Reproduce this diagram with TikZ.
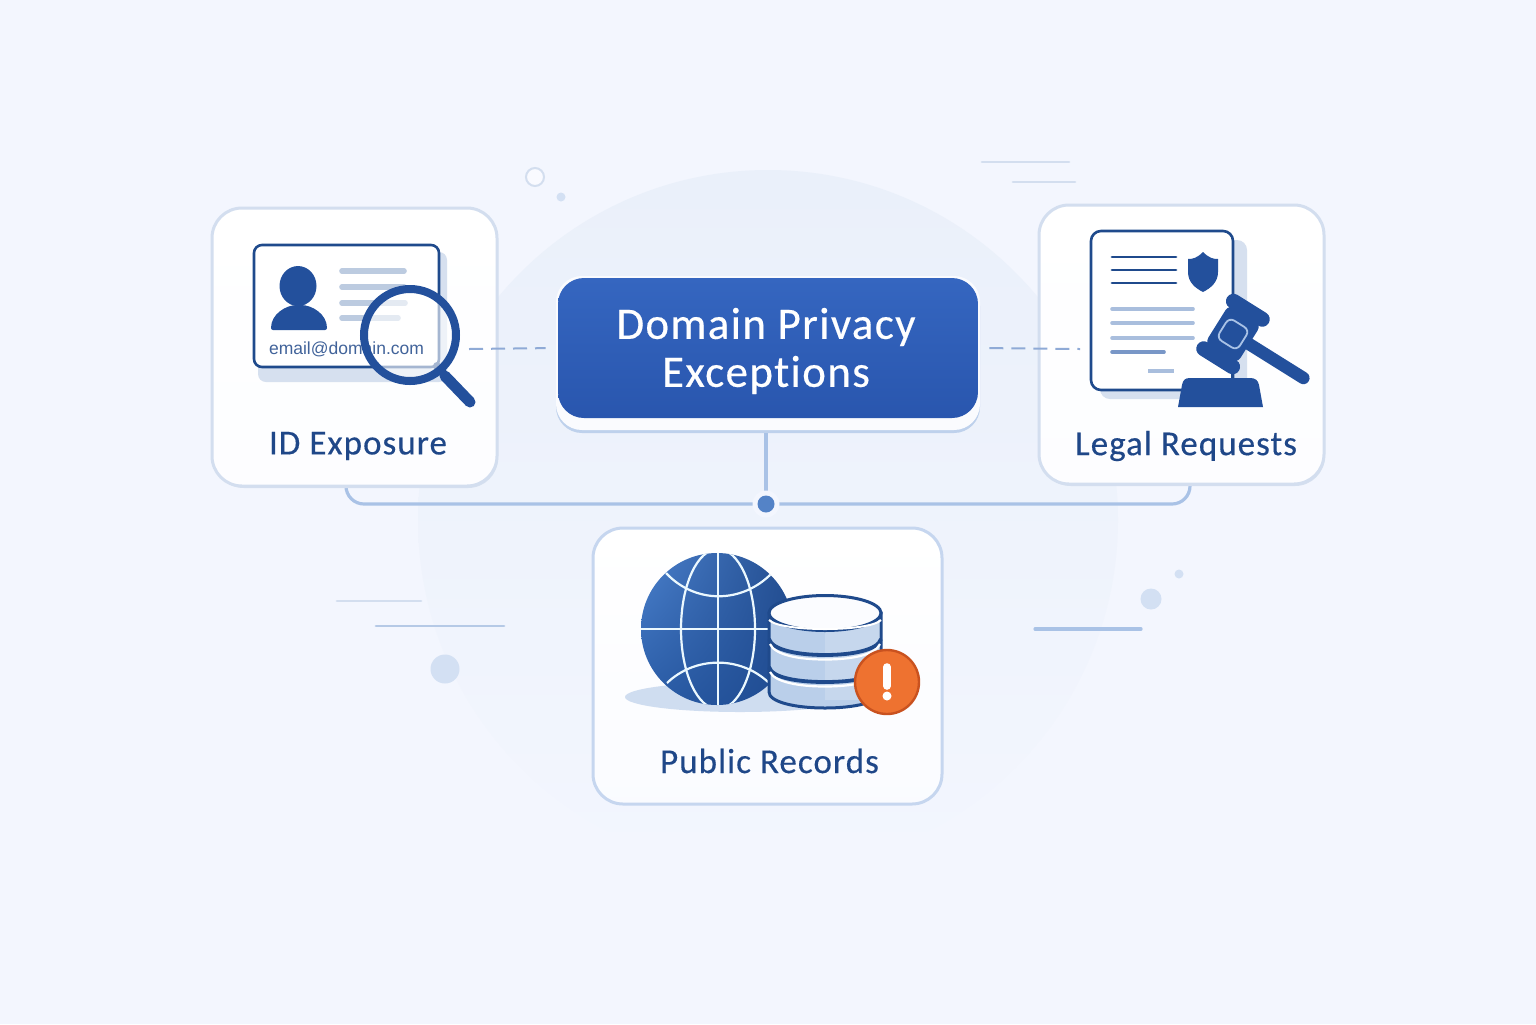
\documentclass[tikz,border=0pt]{standalone}
\usepackage{fontspec}
\setmainfont{Carlito}
\newfontfamily\arialish{Liberation Sans}
\newfontfamily\labelfont[LetterSpace=3,FakeBold=0.35,Ligatures=NoCommon]{Carlito}
\usetikzlibrary{calc,shadings}
\definecolor{bgc}{HTML}{F3F6FE}
\definecolor{halo}{HTML}{EAF0FA}
\definecolor{navy}{HTML}{1F4A8C}
\definecolor{ink}{HTML}{1F4788}
\definecolor{iconblue}{HTML}{23509C}
\definecolor{cardline}{HTML}{D3DEEF}
\definecolor{cardshadow}{HTML}{D6E0EF}
\definecolor{publine}{HTML}{C6D6EF}
\definecolor{conn}{HTML}{A9C2E6}
\definecolor{dash}{HTML}{8FAAD6}
\definecolor{textbar}{HTML}{BCCBE0}
\definecolor{softbar}{HTML}{A9BEDD}
\definecolor{deco}{HTML}{D3E0F3}
\definecolor{decoline}{HTML}{B5C9E6}
\definecolor{drum}{HTML}{BACFEA}
\definecolor{alertf}{HTML}{EE7230}
\definecolor{alertl}{HTML}{C9521F}
\definecolor{maintop}{HTML}{3566C0}
\definecolor{mainbot}{HTML}{2956AE}
\definecolor{dotc}{HTML}{5483C7}
\definecolor{globeul}{HTML}{4A80CC}
\definecolor{globeur}{HTML}{244E90}
\definecolor{globell}{HTML}{2A5CA6}
\definecolor{globelr}{HTML}{1E4A90}
\tikzset{
  card/.style={draw=cardline,line width=1.5pt,rounded corners=15pt,top color=white,bottom color=white!80!bgc,inner sep=0pt},
  cardlabel/.style={text=ink,font=\labelfont\fontsize{17.5}{20}\selectfont,inner sep=0pt},
  connector/.style={draw=conn,line width=1.6pt,rounded corners=9pt},
  dashlink/.style={draw=dash,line width=1pt,dash pattern=on 7pt off 4pt},
  bar/.style={draw=textbar,line width=2.8pt,line cap=round},
  softline/.style={draw=softbar,line width=1.8pt,line cap=round},
  darkline/.style={draw=navy,line width=1.4pt,line cap=round},
  decoln/.style={draw=decoline,line width=1.4pt,line cap=round},
  grid/.style={draw=white!92!cyan,line width=1.1pt},
}
\begin{document}
\begin{tikzpicture}[x=0.5pt,y=-0.5pt]
\useasboundingbox (0,0) rectangle (1536,1024);
\fill[bgc] (0,0) rectangle (1536,1024);
% large soft disc
\shade[top color=halo,bottom color=bgc] (768,520) circle[radius=350];
% decorations
\draw[cardline,line width=1pt,fill=bgc!50!white] (535,177) circle[radius=9];
\fill[deco] (561,197) circle[radius=4.5];
\draw[decoln,draw=cardline] (982,162) -- (1069,162);
\draw[decoln,draw=cardline] (1013,182) -- (1075,182);
\draw[decoln,draw=cardline] (337,601) -- (421,601);
\draw[decoln] (376,626) -- (504,626);
\fill[deco] (445,669) circle[radius=14.5];
\draw[decoln,draw=conn,line width=1.6pt] (1035,629) -- (1141,629);
\fill[deco] (1151,599) circle[radius=10.5];
\fill[deco] (1179,574) circle[radius=4.5];
% anchors
\coordinate (junction) at (766,504);
\coordinate (idport) at (346,480);
\coordinate (legalport) at (1190,480);
\coordinate (lensport) at (469,349);
\coordinate (docport) at (1080,349);
\coordinate (mainlip) at (766,433);
% connectors
\draw[connector] (idport) |- (junction);
\draw[connector] (legalport) |- (junction);
% shadows
\fill[cardshadow,rounded corners=15pt] (214,211) rectangle (498,488);
\fill[cardshadow,rounded corners=15pt] (1041,208) rectangle (1325,486);
% cards
\node[card,minimum width=142.5pt,minimum height=139pt] (idcard) at (354.5,347) {};
\node[card,minimum width=142.5pt,minimum height=139.5pt] (legalcard) at (1181.5,344.5) {};
\node[card,draw=publine,minimum width=174.5pt,minimum height=138pt,bottom color=white!60!bgc] (publiccard) at (767.5,666) {};
% main box
\fill[conn!75!white,rounded corners=13pt] (556,280) rectangle (980,433);
\fill[white!60!bgc,rounded corners=13pt] (556,276) rectangle (980,430);
\node[rounded corners=13pt,top color=maintop,bottom color=mainbot,minimum width=210pt,minimum height=70pt,inner sep=0pt] (mainbox) at (768,348) {};
\node[text=white,font=\labelfont\fontsize{22.5}{24}\selectfont,align=center,inner sep=0pt] (maintext) at (766,351) {Domain Privacy\\Exceptions};
% connector main -> junction
\draw[connector] (mainlip) -- (junction);
\fill[bgc] (junction) circle[radius=13.5];
\node[circle,fill=dotc,minimum size=8.5pt,inner sep=0pt] (junctiondot) at (junction) {};
% dashed links
\draw[dashlink,shorten >=6pt] (lensport) -- (mainbox.west);
\draw[dashlink,shorten <=5.5pt] (mainbox.east) -- (docport);

% ---------- ID card icon
\fill[cardshadow,rounded corners=4pt] (258,252) rectangle (447,382);
\draw[navy,line width=1.3pt,fill=white,rounded corners=4pt] (254,245) rectangle (439,367);
\fill[iconblue] (298,286) ellipse[x radius=18.5,y radius=20];
\fill[iconblue,rounded corners=1pt] (271,330) .. controls (271,314) and (286,305) .. (299,305) .. controls (312,305) and (327,314) .. (327,330) -- cycle;
\draw[bar] (342,271) -- (404,271);
\draw[bar] (342,287) -- (404,287);
\draw[bar] (342,303) -- (405,303);
\draw[bar] (342,318) -- (398,318);
% magnifier
\draw[navy,line width=4pt,line cap=round] (437,366) -- (448,379);
\draw[iconblue,line width=5.5pt,line cap=round] (445,376) -- (470,402);
\fill[white,opacity=.6] (410,335) circle[radius=46];
\node[text=ink!85!white,font=\arialish\fontsize{8.75}{10}\selectfont,inner sep=0pt] (emailtext) at (346.5,349.5) {email@domain.com};
\node[circle,draw=iconblue,line width=4pt,minimum size=46pt,inner sep=0pt] (lens) at (410,335) {};
\node[cardlabel] (idlabel) at (358,446) {ID Exposure};

% ---------- Legal icon
\fill[cardshadow,rounded corners=5pt] (1100,240) rectangle (1247,399);
\draw[navy,line width=1.3pt,fill=white,rounded corners=5pt] (1091,231) rectangle (1233,390);
\draw[darkline] (1112,257) -- (1176,257);
\draw[darkline] (1112,270) -- (1176,270);
\draw[darkline] (1112,283) -- (1176,283);
\draw[softline] (1112,309) -- (1193,309);
\draw[softline] (1112,323) -- (1193,323);
\draw[softline] (1112,338) -- (1193,338);
\draw[softline,draw=dash!80!navy] (1112,352) -- (1164,352);
\draw[softline,line width=2.2pt,line cap=butt] (1148,371) -- (1174,371);
\fill[iconblue] (1203,252) .. controls (1197,258) and (1193,259) .. (1188,259) -- (1188,272) .. controls (1188,282) and (1195,288) .. (1203,292) .. controls (1211,288) and (1218,282) .. (1218,272) -- (1218,259) .. controls (1213,259) and (1209,258) .. (1203,252) -- cycle;
% gavel
\draw[navy,line width=.7pt] (1232,368) -- (1232,380);
\fill[iconblue] (1178,407) -- (1182,385) .. controls (1183,380) and (1185,378) .. (1190,378) -- (1250,378) .. controls (1255,378) and (1258,380) .. (1259,385) -- (1263,407) -- cycle;
\begin{scope}[shift={(1233,334)},rotate=-32]
  \draw[iconblue,line width=6.2pt,line cap=round] (10,0) -- (83,0);
  \fill[iconblue,rounded corners=4pt] (-19,-24) rectangle (19,24);
  \draw[iconblue,line width=7.5pt,line cap=round] (-17,-28) -- (17,-28);
  \draw[iconblue,line width=7.5pt,line cap=round] (-17,28) -- (17,28);
  \draw[conn,line width=.9pt,rounded corners=3pt] (-12,-12) rectangle (12,12);
\end{scope}
\node[cardlabel] (legallabel) at (1186,446) {Legal Requests};

% ---------- Public records icon
\fill[drum!70!white] (740,697) ellipse[x radius=115,y radius=15];
\begin{scope}
  \clip (717,629) circle[radius=76];
  \shade[upper left=globeul,upper right=globeur,lower left=globell,lower right=globelr] (641,553) rectangle (793,705);
  \draw[grid] (718,553) -- (718,705);
  \draw[grid] (641,629) -- (793,629);
  \draw[grid] (718,629) ellipse[x radius=37,y radius=80];
  \draw[grid] (666,573) .. controls (695,604) and (742,604) .. (772,573);
  \draw[grid] (667,683) .. controls (695,656) and (740,656) .. (768,682);
\end{scope}
% database
\path[fill=drum,draw=navy,line width=1.5pt] (769,613) -- (769,692) .. controls (769,702) and (795,708) .. (825,708) .. controls (855,708) and (881,702) .. (881,692) -- (881,613) -- cycle;
\fill[white,opacity=.18] (825,620) rectangle (880,700);
\draw[navy,line width=1.9pt] (769,639) .. controls (772,650) and (798,655) .. (825,655) .. controls (852,655) and (878,650) .. (881,639);
\draw[navy,line width=1.9pt] (769,667) .. controls (772,678) and (798,682) .. (825,682) .. controls (852,682) and (878,678) .. (881,667);
\draw[white,line width=1.1pt] (770,644) .. controls (775,655) and (798,659.5) .. (825,659.5) .. controls (852,659.5) and (875,655) .. (880,644);
\draw[white,line width=1.1pt] (770,672) .. controls (775,682) and (798,686.5) .. (825,686.5) .. controls (852,686.5) and (875,682) .. (880,672);
\draw[navy,line width=1.5pt,fill=white!70!bgc] (825,613) ellipse[x radius=56,y radius=17.5];
\draw[white,line width=1pt] (769,620) .. controls (780,632) and (870,632) .. (881,620);
% alert
\node[circle,fill=alertf,draw=alertl,line width=1.2pt,minimum size=32pt,inner sep=0pt] (alert) at (887,682) {};
\draw[white,line width=3.8pt,line cap=round] (887,667) -- (887,686);
\fill[white] (887,696) circle[radius=4.5];
\node[cardlabel] (publiclabel) at (769.5,761) {Public Records};
\end{tikzpicture}
\end{document}
